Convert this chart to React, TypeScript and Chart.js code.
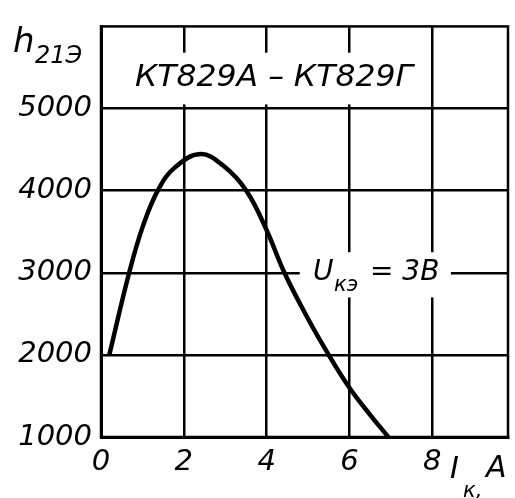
import React, { useEffect, useRef } from "react";
import { Chart, registerables } from "chart.js";

Chart.register(...registerables);

// Collector current, A
const currentA = [0.2, 0.68, 1.02, 1.38, 1.78, 2.4, 2.95, 3.51, 3.99, 4.43, 5.0, 5.5, 6.0, 6.5, 6.94];
// Static current transfer ratio h21Э
const h21e = [2000, 3000, 3580, 4010, 4280, 4445, 4305, 4000, 3530, 3000, 2440, 2000, 1600, 1270, 1000];

const xTicks = [0, 2, 4, 6, 8];
const yTicks = [1000, 2000, 3000, 4000, 5000];
const xRange = [0, 9.83];
const yRange = [1000, 6000];

const titleText = "КТ829А – КТ829Г";
const curveMain = "U";
const curveSub = "кэ";
const curveRest = "= 3В";
const yTitleMain = "h";
const yTitleSub = "21Э";
const xTitleMain = "I";
const xTitleSub = "к,";
const xTitleUnit = "A";

const FAMILY = "'DejaVu Sans', 'Liberation Sans', sans-serif";

const overlay = {
  id: "overlay",
  beforeDatasetsDraw(chart: any) {
    const { ctx, chartArea: a, scales } = chart;
    const x = scales.x;
    const y = scales.y;
    ctx.save();
    ctx.strokeStyle = "#000";
    ctx.lineWidth = 2.5;
    ctx.strokeRect(a.left, a.top, a.right - a.left, a.bottom - a.top);
    ctx.fillStyle = "#fff";
    // title box
    const tx0 = x.getPixelForValue(0.4);
    const tx1 = x.getPixelForValue(7.8);
    const ty0 = y.getPixelForValue(5680);
    const ty1 = y.getPixelForValue(5050);
    ctx.fillRect(tx0, ty0, tx1 - tx0, ty1 - ty0);
    // curve label box
    const ux0 = x.getPixelForValue(4.8);
    const ux1 = x.getPixelForValue(8.45);
    const uy0 = y.getPixelForValue(3250);
    const uy1 = y.getPixelForValue(2700);
    ctx.fillRect(ux0, uy0, ux1 - ux0, uy1 - uy0);
    ctx.restore();
  },
  afterDraw(chart: any) {
    const { ctx } = chart;
    ctx.save();
    ctx.fillStyle = "#000";
    ctx.textBaseline = "alphabetic";
    ctx.textAlign = "left";
    // title, squeezed to fit
    ctx.font = `italic 30px ${FAMILY}`;
    const w = ctx.measureText(titleText).width;
    const target = 278;
    ctx.save();
    ctx.translate(135, 86);
    ctx.scale(target / w, 1);
    ctx.fillText(titleText, 0, 0);
    ctx.restore();
    // curve label
    ctx.font = `italic 28px ${FAMILY}`;
    ctx.fillText(curveMain, 313, 280);
    ctx.font = `italic 21px ${FAMILY}`;
    ctx.fillText(curveSub, 334, 291);
    ctx.font = `italic 28px ${FAMILY}`;
    ctx.fillText(curveRest, 370, 280);
    // y title
    ctx.font = `italic 34px ${FAMILY}`;
    ctx.fillText(yTitleMain, 13, 52);
    ctx.font = `italic 24px ${FAMILY}`;
    ctx.fillText(yTitleSub, 35, 63);
    // x title
    ctx.font = `italic 30px ${FAMILY}`;
    ctx.fillText(xTitleMain, 450, 478);
    ctx.font = `italic 21px ${FAMILY}`;
    ctx.fillText(xTitleSub, 463, 497);
    ctx.font = `italic 30px ${FAMILY}`;
    ctx.fillText(xTitleUnit, 486, 477);
    ctx.restore();
  },
};

export default function App() {
  const ref = useRef<HTMLCanvasElement | null>(null);
  useEffect(() => {
    if (!ref.current) return;
    const tickFont = { family: FAMILY, size: 29, style: "italic" as const };
    const chart = new Chart(ref.current, {
      type: "line",
      data: {
        datasets: [
          {
            data: currentA.map((v, i) => ({ x: v, y: h21e[i] })),
            borderColor: "#000",
            borderWidth: 4.5,
            pointRadius: 0,
            tension: 0.4,
            fill: false,
          },
        ],
      },
      options: {
        responsive: false,
        animation: false,
        devicePixelRatio: 1,
        layout: { padding: { left: 0, top: 23, right: 7, bottom: 0 } },
        plugins: { legend: { display: false }, tooltip: { enabled: false } },
        scales: {
          x: {
            type: "linear",
            min: xRange[0],
            max: xRange[1],
            afterBuildTicks: (s: any) => {
              s.ticks = xTicks.map((v) => ({ value: v }));
            },
            afterFit: (s: any) => {
              s.height = 61;
            },
            grid: { color: "#000", lineWidth: 2.5, drawTicks: false },
            border: { color: "#000", width: 3 },
            ticks: { color: "#000", font: tickFont, padding: 8, maxRotation: 0, callback: (v: any) => String(v) },
          },
          y: {
            type: "linear",
            min: yRange[0],
            max: yRange[1],
            afterBuildTicks: (s: any) => {
              s.ticks = yTicks.map((v) => ({ value: v }));
            },
            afterFit: (s: any) => {
              s.width = 101;
            },
            grid: { color: "#000", lineWidth: 2.5, drawTicks: false },
            border: { color: "#000", width: 3 },
            ticks: { color: "#000", font: tickFont, padding: 9, callback: (v: any) => String(v) },
          },
        },
      },
      plugins: [overlay],
    });
    return () => chart.destroy();
  }, []);
  return (
    <div style={{ position: "fixed", left: 0, top: 0, width: 515, height: 498, background: "#fff" }}>
      <canvas ref={ref} width={515} height={498} style={{ display: "block" }} />
    </div>
  );
}
